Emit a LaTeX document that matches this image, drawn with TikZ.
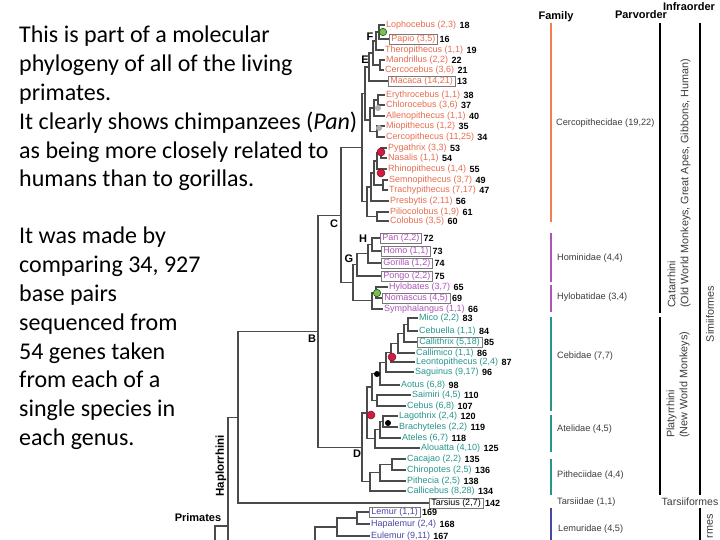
\documentclass[tikz,border=0pt]{standalone}
\usepackage{fontspec}
\setmainfont{Carlito}
\newfontfamily\arial{Liberation Sans}
\definecolor{treeC}{RGB}{75,75,75}
\definecolor{orT}{RGB}{232,108,78}
\definecolor{orL}{RGB}{240,128,82}
\definecolor{puT}{RGB}{172,84,184}
\definecolor{teT}{RGB}{38,150,140}
\definecolor{blT}{RGB}{72,72,165}
\definecolor{boxC}{RGB}{120,120,120}
\definecolor{famT}{RGB}{60,60,60}
\definecolor{grnF}{RGB}{120,190,80}
\definecolor{grnD}{RGB}{40,90,30}
\definecolor{redF}{RGB}{205,30,65}
\definecolor{redD}{RGB}{120,20,40}
\definecolor{gryF}{RGB}{175,175,175}
\newcommand\leaf[6]{%
  \node[lab,#6] (#1) at (#2,#3) {#4};
  \node[num] (#1n) at ([xshift=1pt]#1.east) {#5};}
\newcommand\elbow[2]{\draw[tree] (#1) |- (#2);}
\begin{document}
\begin{tikzpicture}[x=1pt,y=-1pt,
  tree/.style={draw=treeC, line width=1.1pt},
  lab/.style={anchor=west, inner sep=1pt, font=\arial\fontsize{9}{10}\selectfont},
  bx/.style={draw=boxC, line width=0.5pt, inner xsep=2pt, inner ysep=1pt},
  num/.style={anchor=west, inner sep=1pt, font=\arial\bfseries\fontsize{9}{10}\selectfont, text=black},
  clade/.style={font=\arial\bfseries\fontsize{11}{12}\selectfont, inner sep=0pt},
  fam/.style={anchor=west, inner sep=0pt, text=famT, font=\arial\fontsize{9.2}{10}\selectfont},
  head/.style={inner sep=0pt, font=\arial\bfseries\fontsize{11}{12}\selectfont},
  famline/.style={line width=1.5pt},
  ordline/.style={line width=1.8pt, draw=black},
  rot/.style={inner sep=0pt, rotate=90, font=\arial\fontsize{10.8}{13}\selectfont, text=famT},
  dot/.style={circle, inner sep=0pt, minimum size=#1},
  body/.style={anchor=north west, align=left, inner sep=0pt, font=\fontsize{24}{28.8}\selectfont}
]
\useasboundingbox (0,0) rectangle (720,540);
\clip (0,0) rectangle (720,540);

% ---- left text
\node[body] (p1) at (19,26) {This is part of a molecular\\ phylogeny of all of the living\\ primates.\\ It clearly shows chimpanzees (\textit{Pan})\\ as being more closely related to\\ humans than to gorillas.};
\node[body] (p2) at (19,227) {It was made by\\ comparing 34, 927\\ base pairs\\ sequenced from\\ 54 genes taken\\ from each of a\\ single species in\\ each genus.};

% ---- leaves: Cercopithecidae
\leaf{lop}{385}{25}{Lophocebus (2,3)}{18}{text=orT}
\leaf{pap}{389}{39}{Papio (3,5)}{16}{text=orT,bx}
\leaf{the}{384}{50}{Theropithecus (1,1)}{19}{text=orT}
\leaf{man}{385}{60}{Mandrillus (2,2)}{22}{text=orT}
\leaf{cer}{384}{70}{Cercocebus (3,6)}{21}{text=orT}
\leaf{mac}{388}{81}{Macaca (14,21)}{13}{text=orT,bx}
\leaf{ery}{385}{95}{Erythrocebus (1,1)}{38}{text=orT}
\leaf{chl}{385}{105}{Chlorocebus (3,6)}{37}{text=orT}
\leaf{all}{385}{116}{Allenopithecus (1,1)}{40}{text=orT}
\leaf{mio}{385}{126}{Miopithecus (1,2)}{35}{text=orT}
\leaf{cep}{385}{137}{Cercopithecus (11,25)}{34}{text=orT}
\leaf{pyg}{387}{148}{Pygathrix (3,3)}{53}{text=orT}
\leaf{nas}{387}{158}{Nasalis (1,1)}{54}{text=orT}
\leaf{rhi}{387}{169}{Rhinopithecus (1,4)}{55}{text=orT}
\leaf{sem}{388}{180}{Semnopithecus (3,7)}{49}{text=orT}
\leaf{tra}{388}{190}{Trachypithecus (7,17)}{47}{text=orT}
\leaf{pre}{389}{201}{Presbytis (2,11)}{56}{text=orT}
\leaf{pil}{389}{212}{Piliocolobus (1,9)}{61}{text=orT}
\leaf{col}{389}{221}{Colobus (3,5)}{60}{text=orT}
% Hominoidea
\leaf{pan}{380}{238}{Pan (2,2)}{72}{text=puT,bx}
\leaf{homo}{381}{251}{Homo (1,1)}{73}{text=puT,bx}
\leaf{gor}{381}{263}{Gorilla (1,2)}{74}{text=puT,bx}
\leaf{pon}{381}{276}{Pongo (2,2)}{75}{text=puT,bx}
\leaf{hyl}{388}{287}{Hylobates (3,7)}{65}{text=puT}
\leaf{nom}{382}{298}{Nomascus (4,5)}{69}{text=puT,bx}
\leaf{sym}{383}{309}{Symphalangus (1,1)}{66}{text=puT}
% Platyrrhini
\leaf{mico}{418}{318}{Mico (2,2)}{83}{text=teT}
\leaf{ceb}{418}{331}{Cebuella (1,1)}{84}{text=teT}
\leaf{cal}{417}{342}{Callithrix (5,18)}{85}{text=teT,bx}
\leaf{cmi}{415}{353}{Callimico (1,1)}{86}{text=teT}
\leaf{leo}{415}{362}{Leontopithecus (2,4)}{87}{text=teT}
\leaf{sag}{414}{372}{Saguinus (9,17)}{96}{text=teT}
\leaf{aot}{400}{385}{Aotus (6,8)}{98}{text=teT}
\leaf{sai}{411}{395}{Saimiri (4,5)}{110}{text=teT}
\leaf{cbs}{406}{406}{Cebus (6,8)}{107}{text=teT}
\leaf{lag}{398}{416}{Lagothrix (2,4)}{120}{text=teT}
\leaf{bra}{398}{427}{Brachyteles (2,2)}{119}{text=teT}
\leaf{ate}{401}{438}{Ateles (6,7)}{118}{text=teT}
\leaf{alo}{420}{448}{Alouatta (4,10)}{125}{text=teT}
\leaf{cac}{406}{459}{Cacajao (2,2)}{135}{text=teT}
\leaf{chi}{406}{470}{Chiropotes (2,5)}{136}{text=teT}
\leaf{pit}{406}{481}{Pithecia (2,5)}{138}{text=teT}
\leaf{cci}{406}{491}{Callicebus (8,28)}{134}{text=teT}
% Tarsius, lemurs
\leaf{tar}{429}{503}{Tarsius (2,7)}{142}{text=black,bx}
\leaf{lem}{369}{512}{Lemur (1,1)}{169}{text=blT,bx}
\leaf{hap}{370}{524}{Hapalemur (2,4)}{168}{text=blT}
\leaf{eul}{370}{536}{Eulemur (9,11)}{167}{text=blT}

% ---- internal nodes
\coordinate (nLP) at (379,32);
\coordinate (nF) at (376,41);
\coordinate (nMC) at (380,65);
\coordinate (nE) at (373,53);
\coordinate (nPap) at (369,67);
\coordinate (nEC) at (378,100);
\coordinate (nECA) at (374,108);
\coordinate (nMC2) at (377,131.5);
\coordinate (nCer) at (370,120);
\coordinate (nCn) at (365,93.5);
\coordinate (nPN) at (381,153);
\coordinate (nPNR) at (377,161);
\coordinate (nST) at (383,185);
\coordinate (nAsian) at (374,173);
\coordinate (nPres) at (371,187);
\coordinate (nPC) at (377,216.5);
\coordinate (nCol) at (367,201.75);
\coordinate (nCerc) at (362,147.6);
\coordinate (nH) at (372,244.5);
\coordinate (nHG) at (368,253.75);
\coordinate (nG) at (357,264.9);
\coordinate (nHN) at (376,292.5);
\coordinate (nGib) at (372,300.75);
\coordinate (nHom) at (353,282.8);
\coordinate (nC) at (341,215.2);
\coordinate (nMiCe) at (408,324.5);
\coordinate (nMar) at (404,333.25);
\coordinate (nCmi) at (398,343.1);
\coordinate (nLeo) at (391,352.6);
\coordinate (nCal) at (386,362.3);
\coordinate (nAot) at (380,373.6);
\coordinate (nSC) at (377,400.5);
\coordinate (nCeb) at (372,387);
\coordinate (nLB) at (383,421.5);
\coordinate (nLBA) at (380,429.75);
\coordinate (nAte) at (375,438.9);
\coordinate (nCA) at (367,413);
\coordinate (nCC) at (392,464.5);
\coordinate (nCCP) at (380,472.75);
\coordinate (nPit) at (370,481.9);
\coordinate (nD) at (362,447.5);
\coordinate (nB) at (318,331.3);
\coordinate (nHap) at (238,417.3);
\coordinate (nPri) at (228,526);
\coordinate (nStr) at (228,640);
\coordinate (nOut) at (215,640);
\coordinate (nLH) at (357,518);
\coordinate (nLHE) at (337,527);
\coordinate (nLem) at (315,640);

% ---- branches
\elbow{nLP}{lop}\elbow{nLP}{pap}
\elbow{nF}{nLP}\elbow{nF}{the}
\elbow{nMC}{man}\elbow{nMC}{cer}
\elbow{nE}{nF}\elbow{nE}{nMC}
\elbow{nPap}{nE}\elbow{nPap}{mac}
\elbow{nEC}{ery}\elbow{nEC}{chl}
\elbow{nECA}{nEC}\elbow{nECA}{all}
\elbow{nMC2}{mio}\elbow{nMC2}{cep}
\elbow{nCer}{nECA}\elbow{nCer}{nMC2}
\elbow{nCn}{nPap}\elbow{nCn}{nCer}
\elbow{nPN}{pyg}\elbow{nPN}{nas}
\elbow{nPNR}{nPN}\elbow{nPNR}{rhi}
\elbow{nST}{sem}\elbow{nST}{tra}
\elbow{nAsian}{nPNR}\elbow{nAsian}{nST}
\elbow{nPres}{nAsian}\elbow{nPres}{pre}
\elbow{nPC}{pil}\elbow{nPC}{col}
\elbow{nCol}{nPres}\elbow{nCol}{nPC}
\elbow{nCerc}{nCn}\elbow{nCerc}{nCol}
\elbow{nH}{pan}\elbow{nH}{homo}
\elbow{nHG}{nH}\elbow{nHG}{gor}
\elbow{nG}{nHG}\elbow{nG}{pon}
\elbow{nHN}{hyl}\elbow{nHN}{nom}
\elbow{nGib}{nHN}\elbow{nGib}{sym}
\elbow{nHom}{nG}\elbow{nHom}{nGib}
\elbow{nC}{nCerc}\elbow{nC}{nHom}
\elbow{nMiCe}{mico}\elbow{nMiCe}{ceb}
\elbow{nMar}{nMiCe}\elbow{nMar}{cal}
\elbow{nCmi}{nMar}\elbow{nCmi}{cmi}
\elbow{nLeo}{nCmi}\elbow{nLeo}{leo}
\elbow{nCal}{nLeo}\elbow{nCal}{sag}
\elbow{nAot}{nCal}\elbow{nAot}{aot}
\elbow{nSC}{sai}\elbow{nSC}{cbs}
\elbow{nCeb}{nAot}\elbow{nCeb}{nSC}
\elbow{nLB}{lag}\elbow{nLB}{bra}
\elbow{nLBA}{nLB}\elbow{nLBA}{ate}
\elbow{nAte}{nLBA}\elbow{nAte}{alo}
\elbow{nCA}{nCeb}\elbow{nCA}{nAte}
\elbow{nCC}{cac}\elbow{nCC}{chi}
\elbow{nCCP}{nCC}\elbow{nCCP}{pit}
\elbow{nPit}{nCCP}\elbow{nPit}{cci}
\elbow{nD}{nCA}\elbow{nD}{nPit}
\elbow{nB}{nC}\elbow{nB}{nD}
\elbow{nHap}{nB}\elbow{nHap}{tar}
\elbow{nPri}{nHap}\elbow{nPri}{nStr}
\elbow{nOut}{nPri}
\elbow{nLH}{lem}\elbow{nLH}{hap}
\elbow{nLHE}{nLH}\elbow{nLHE}{eul}
\elbow{nLem}{nLHE}

% ---- clade letters
\node[clade] (lF) at (370,37) {F};
\node[clade] (lE) at (365,60) {E};
\node[clade] (lC) at (334,224) {C};
\node[clade] (lH) at (363,239) {H};
\node[clade] (lG) at (349,259) {G};
\node[clade] (lB) at (312,339) {B};
\node[clade] (lD) at (357,454) {D};
\node[clade, rotate=90, font=\arial\bfseries\fontsize{11.5}{12}\selectfont] (lHap) at (221,466) {Haplorrhini};
\node[clade] (lPri) at (198,518) {Primates};

% ---- dots
\node[dot=7.5pt, fill=grnF, draw=grnD, line width=0.6pt] (g1) at (383,32) {};
\node[dot=7.5pt, fill=grnF, draw=grnD, line width=0.6pt] (g2) at (377,293) {};
\node[dot=6pt, fill=gryF] (s1) at (378,108) {};
\node[dot=6pt, fill=gryF] (s2) at (379,128) {};
\node[dot=8pt, fill=redF, draw=redD, line width=0.5pt] (r1) at (381,152) {};
\node[dot=8pt, fill=redF, draw=redD, line width=0.5pt] (r2) at (381,173) {};
\node[dot=8pt, fill=redF, draw=redD, line width=0.5pt] (r3) at (392,357) {};
\node[dot=8pt, fill=redF, draw=redD, line width=0.5pt] (r4) at (371,415) {};
\node[dot=6pt, fill=black] (k1) at (377,374) {};
\node[dot=6pt, fill=black] (k2) at (388,423) {};

% ---- right-hand classification
\node[head] (hFam) at (556,17) {Family};
\node[head] (hPar) at (641,15) {Parvorder};
\node[head] (hInf) at (689,7) {Infraorder};

\draw[famline, draw=orL] (551,23) -- (551,222);
\draw[famline, draw=puT] (551,233) -- (551,282);
\draw[famline, draw=puT] (551,285) -- (551,312);
\draw[famline, draw=teT] (551,317) -- (551,411);
\draw[famline, draw=teT] (551,415) -- (551,452);
\draw[famline, draw=teT] (551,459) -- (551,495);
\draw[famline, draw=blT] (551,508) -- (551,545);

\node[fam] (fCer) at (556,123) {Cercopithecidae (19,22)};
\node[fam] (fHom) at (557,258) {Hominidae (4,4)};
\node[fam] (fHyl) at (557,297) {Hylobatidae (3,4)};
\node[fam] (fCeb) at (557,356) {Cebidae (7,7)};
\node[fam] (fAte) at (557,429) {Atelidae (4,5)};
\node[fam] (fPit) at (557,475) {Pitheciidae (4,4)};
\node[fam] (fTar) at (557,502) {Tarsiidae (1,1)};
\node[fam] (fLem) at (558,529) {Lemuridae (4,5)};

\draw[ordline] (660,23) -- (660,313);
\draw[ordline] (660,317) -- (660,495);
\draw[ordline] (700,23) -- (700,495);
\draw[ordline] (700,508) -- (700,545);

\node[rot, anchor=west, align=left] (oCat) at (679,308) {Catarrhini\\(Old World Monkeys, Great Apes, Gibbons, Human)};
\node[rot, anchor=west, align=left] (oPla) at (678,438) {Platyrrhini\\(New World Monkeys)};
\node[rot] (oSim) at (710,314) {Simiiformes};
\node[inner sep=0pt, text=famT, font=\arial\fontsize{10.5}{13}\selectfont] (oTar) at (690,502) {Tarsiiformes};
\node[rot, anchor=east] (oLem) at (710,514) {rmes};
\end{tikzpicture}
\end{document}
